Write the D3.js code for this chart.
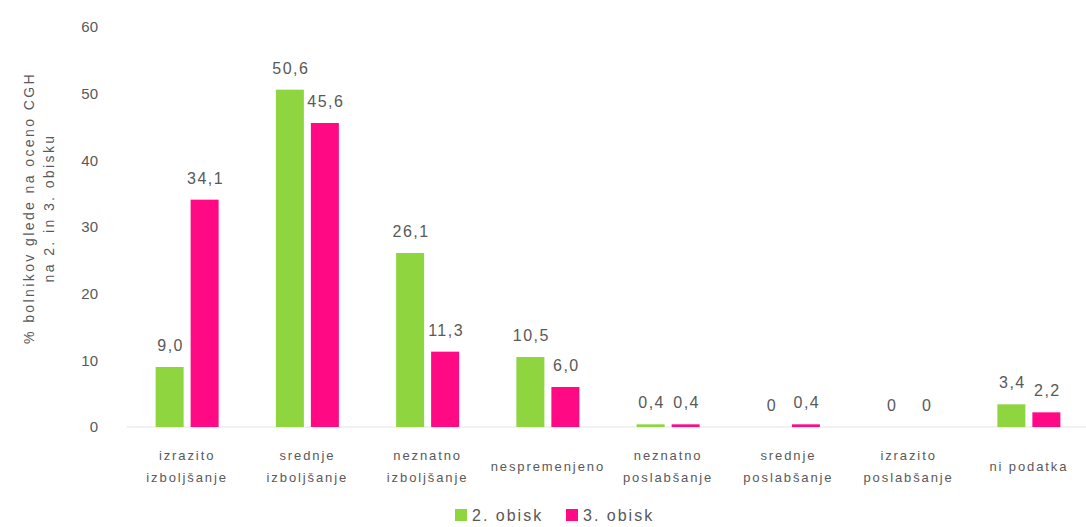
<!DOCTYPE html>
<html>
<head>
<meta charset="utf-8">
<script src="https://cdn.jsdelivr.net/npm/d3@7"></script>
<style>
  html, body { margin: 0; padding: 0; background: #fff; }
  svg { display: block; font-family: "Liberation Sans", Arial, sans-serif; }
</style>
</head>
<body>
<svg id="chart" width="1086" height="527"></svg>
<script>
// Categories (each label split into its lines)
const categories = [
  ["izrazito", "izboljšanje"],
  ["srednje", "izboljšanje"],
  ["neznatno", "izboljšanje"],
  ["nespremenjeno"],
  ["neznatno", "poslabšanje"],
  ["srednje", "poslabšanje"],
  ["izrazito", "poslabšanje"],
  ["ni podatka"]
];
const seriesNames = ["2. obisk", "3. obisk"];
const visit2 = [9.0, 50.6, 26.1, 10.5, 0.4, 0, 0, 3.4];
const visit3 = [34.1, 45.6, 11.3, 6.0, 0.4, 0.4, 0, 2.2];
const yTicks = [0, 10, 20, 30, 40, 50, 60];
const yTitle = ["% bolnikov glede na oceno CGH", "na 2. in 3. obisku"];

const colors = ["#8ed53f", "#ff0a84"];
const textColor = "#595959";

const svg = d3.select("#chart");
const catKeys = categories.map(c => c.join(" "));

const x0 = d3.scaleBand().domain(catKeys).range([127, 1089]);
const groupW = 63;
const x1 = d3.scaleBand().domain(seriesNames)
  .range([(x0.bandwidth() - groupW) / 2, (x0.bandwidth() + groupW) / 2])
  .paddingInner(0.2);
const y = d3.scaleLinear().domain([0, 60]).range([427, 27]);

const fmt = v => v === 0 ? "0" : d3.format(".1f")(v).replace(".", ",");

// baseline
svg.append("line")
  .attr("x1", x0.range()[0]).attr("x2", x0.range()[1])
  .attr("y1", y(0)).attr("y2", y(0))
  .attr("stroke", "#e3e3e3").attr("stroke-width", 1);

// y axis (labels only)
const yAxis = d3.axisLeft(y).tickValues(yTicks).tickSize(0).tickPadding(0);
const gy = svg.append("g").attr("transform", "translate(98,0)").call(yAxis);
gy.select(".domain").remove();
gy.selectAll("text")
  .attr("fill", textColor)
  .style("font-size", "15px")
  .style("font-family", "'Liberation Sans Narrow', 'Liberation Sans', sans-serif");

// y axis title
const yt = svg.append("text")
  .attr("transform", "translate(34,208) rotate(-90)")
  .attr("text-anchor", "middle")
  .attr("fill", textColor)
  .style("font-size", "14px")
  .style("letter-spacing", "2.4px");
yTitle.forEach((t, i) => {
  yt.append("tspan").attr("x", 0).attr("dy", i === 0 ? 0 : 20).text(t);
});

// bars
const data = catKeys.map((k, i) => ({ key: k, values: [visit2[i], visit3[i]] }));
const groups = svg.selectAll("g.grp").data(data).join("g")
  .attr("class", "grp")
  .attr("transform", d => `translate(${x0(d.key)},0)`);

groups.selectAll("rect")
  .data(d => d.values.map((v, j) => ({ s: seriesNames[j], v, j })))
  .join("rect")
  .attr("x", d => x1(d.s))
  .attr("width", x1.bandwidth())
  .attr("y", d => y(d.v))
  .attr("height", d => y(0) - y(d.v))
  .attr("fill", d => colors[d.j]);

groups.selectAll("text.val")
  .data(d => d.values.map((v, j) => ({ s: seriesNames[j], v, j })))
  .join("text")
  .attr("class", "val")
  .attr("x", d => x1(d.s) + x1.bandwidth() / 2 + 1)
  .attr("y", d => y(d.v) - 16)
  .attr("text-anchor", "middle")
  .attr("fill", textColor)
  .style("font-size", "16px")
  .style("letter-spacing", "1.5px")
  .text(d => fmt(d.v));

// category labels
const xl = svg.append("g");
categories.forEach((lines, i) => {
  const cx = x0(catKeys[i]) + x0.bandwidth() / 2;
  const startY = lines.length === 1 ? 471 : 460;
  const t = xl.append("text")
    .attr("text-anchor", "middle")
    .attr("fill", textColor)
    .style("font-size", "13px")
    .style("letter-spacing", "1.9px");
  lines.forEach((ln, j) => {
    t.append("tspan").attr("x", cx).attr("y", startY + j * 22).text(ln);
  });
});

// legend
const legend = svg.append("g");
const legendX = [455, 566];
seriesNames.forEach((name, i) => {
  const g = legend.append("g").attr("transform", `translate(${legendX[i]},509)`);
  g.append("rect").attr("width", 12).attr("height", 12).attr("fill", colors[i]);
  g.append("text").attr("x", 17).attr("y", 12)
    .attr("fill", textColor)
    .style("font-size", "16px")
    .style("letter-spacing", "2px")
    .text(name);
});
</script>
</body>
</html>
